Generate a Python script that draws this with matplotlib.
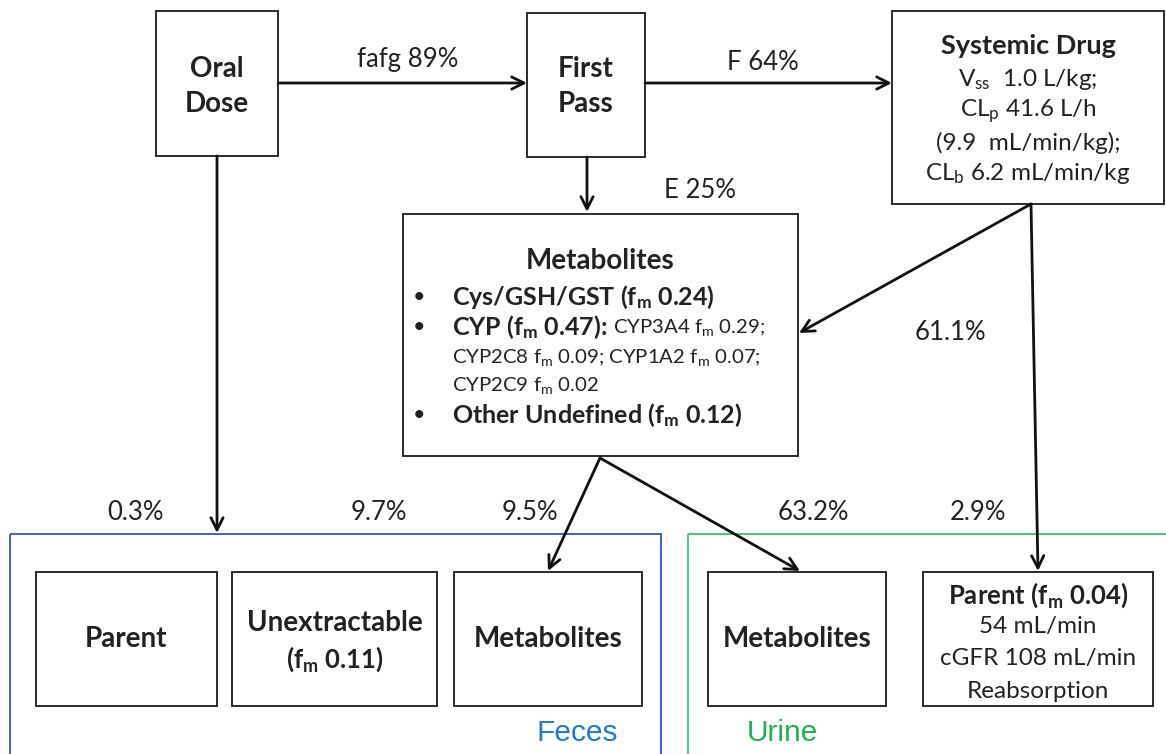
#!/usr/bin/env python3
"""Mass balance / disposition flow diagram (oral dose -> feces / urine)."""
import matplotlib
matplotlib.use('Agg')
import matplotlib.pyplot as plt
from matplotlib.patches import Rectangle

plt.rcParams['font.family'] = ['Lato', 'DejaVu Sans']

FM = r'$\mathregular{f_m}$'

# --- Data: flow fractions and box contents ---
flow_labels = ['fafg 89%', 'F 64%', 'E 25%', '61.1%',
               '0.3%', '9.7%', '9.5%', '63.2%', '2.9%']
systemic_lines = ['Systemic Drug',
                  r'$\mathregular{V_{ss}}$  1.0 L/kg;',
                  r'$\mathregular{CL_p}$ 41.6 L/h',
                  '(9.9  mL/min/kg);',
                  r'$\mathregular{CL_b}$ 6.2 mL/min/kg']
metab_items = ['Cys/GSH/GST (%s 0.24)' % FM,
               'CYP (%s 0.47):' % FM,
               'Other Undefined (%s 0.12)' % FM]
cyp_detail = ['CYP3A4 %s 0.29;' % FM,
              'CYP2C8 %s 0.09; CYP1A2 %s 0.07;' % (FM, FM),
              'CYP2C9 %s 0.02' % FM]
urine_parent_lines = ['Parent (%s 0.04)' % FM, '54 mL/min',
                      'cGFR 108 mL/min', 'Reabsorption']

# --- Layout (pixel coordinates, y down) ---
fig = plt.figure(figsize=(11.66, 7.54), dpi=100)
ax = fig.add_axes([0, 0, 1, 1])
ax.set_xlim(0, 1166)
ax.set_ylim(754, 0)
ax.axis('off')

EDGE = '#2b2b2b'
BOLD = 20        # box titles
ITEM = 18        # bold bullet items
REG = 17.5       # regular body text
FLOW = 18.5      # percentages on arrows
SMALL = 14.7     # CYP details


def box(x0, y0, x1, y1, color=EDGE, lw=1.4):
    ax.add_patch(Rectangle((x0, y0), x1 - x0, y1 - y0, fill=False,
                           edgecolor=color, lw=lw))


def arrow(start, end):
    ax.annotate('', xy=end, xytext=start,
                arrowprops=dict(arrowstyle='->', lw=2, color='#111111',
                                shrinkA=0, shrinkB=0, mutation_scale=22))


def txt(x, y, s, size=REG, bold=False, ha='center', color='#222222', **kw):
    return ax.text(x, y, s, fontsize=size, ha=ha, va='center',
                   fontweight='bold' if bold else 'normal', color=color, **kw)


# containers
box(10, 534, 661, 770, color='#2f52e0', lw=1.3)
box(688, 534, 1180, 770, color='#3cc46a', lw=1.3)
ax.text(577, 733, 'Feces', fontsize=21.5, ha='center', va='center',
        color='#1f7bd0', family='Liberation Sans')
ax.text(782, 733, 'Urine', fontsize=21.5, ha='center', va='center',
        color='#22b14c', family='Liberation Sans')

# top row boxes
box(156, 11, 278, 156)
box(527, 13, 645, 157)
box(892, 11, 1164, 204)
txt(217, 69, 'Oral', BOLD, True)
txt(217, 104, 'Dose', BOLD, True)
txt(586, 69, 'First', BOLD, True)
txt(586, 104, 'Pass', BOLD, True)
sys_y = [46, 79, 111, 143, 174]
for i, (line, y) in enumerate(zip(systemic_lines, sys_y)):
    txt(1028, y, line, BOLD - 0.5 if i == 0 else REG, i == 0)

# metabolites box
box(403, 214, 798, 456)
txt(600, 261, 'Metabolites', BOLD, True)
bullet_y = [297, 327, 415]
for item, y in zip(metab_items, bullet_y):
    txt(419, y, '\u2022', REG - 2, ha='center')
    t = txt(452, y, item, ITEM, True, ha='left')
    if item.startswith('CYP'):
        cyp_head = t
fig.canvas.draw()
bb = cyp_head.get_window_extent(fig.canvas.get_renderer())
x_end = ax.transData.inverted().transform((bb.x1, bb.y0))[0]
txt(x_end + 6, 328, cyp_detail[0], SMALL, ha='left')
txt(452, 357, cyp_detail[1], SMALL, ha='left')
txt(452, 385, cyp_detail[2], SMALL, ha='left')

# bottom boxes
box(36, 572, 217, 706)
box(232, 572, 437, 706)
box(454, 572, 642, 706)
box(708, 572, 886, 706)
box(923, 572, 1153, 706)
txt(126, 639, 'Parent', BOLD, True)
txt(335, 623, 'Unextractable', BOLD, True)
txt(335, 659, '(%s 0.11)' % FM, ITEM + 0.5, True)
txt(548, 639, 'Metabolites', BOLD, True)
txt(797, 639, 'Metabolites', BOLD, True)
up_y = [595, 627, 659, 691]
for i, (line, y) in enumerate(zip(urine_parent_lines, up_y)):
    txt(1038, y, line, ITEM + 0.5 if i == 0 else REG, i == 0)

# arrows
arrow((278, 83), (527, 83))
arrow((645, 83), (892, 83))
arrow((587, 157), (587, 212))
arrow((217, 156), (217, 533))
arrow((1031, 204), (799, 333))
arrow((1031, 204), (1038, 571))
arrow((600, 458), (548, 571))
arrow((600, 458), (800, 571))

# flow fraction labels
label_xy = [(408, 60), (763, 63), (700, 190), (950, 332),
            (135, 512), (379, 512), (530, 512), (813, 512), (978, 512)]
for lab, (x, y) in zip(flow_labels, label_xy):
    txt(x, y, lab, FLOW)

fig.savefig('out.png', dpi=100)
